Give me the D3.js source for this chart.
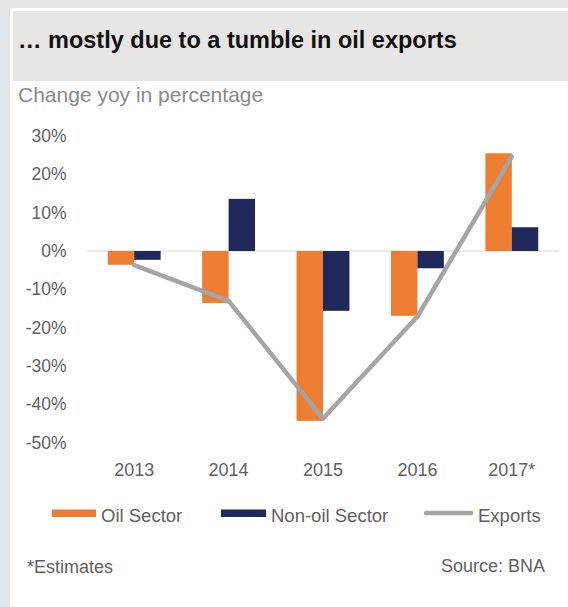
<!DOCTYPE html>
<html>
<head>
<meta charset="utf-8">
<script src="https://cdn.jsdelivr.net/npm/d3@7"></script>
<style>
  html, body { margin: 0; padding: 0; background: #e4e5e7; }
  svg { display: block; }
  text { font-family: "Liberation Sans", Arial, Helvetica, sans-serif; }
</style>
</head>
<body>
<svg id="chart" width="568" height="607"></svg>
<script>
const categories = ["2013", "2014", "2015", "2016", "2017*"];
const oilSector = [-3.6, -13.6, -44.3, -16.9, 25.5];
const nonOilSector = [-2.3, 13.6, -15.6, -4.5, 6.2];
const exportsSeries = [-3.7, -13.0, -43.7, -17.1, 24.6];
const yTicks = [30, 20, 10, 0, -10, -20, -30, -40, -50];
const seriesNames = ["Oil Sector", "Non-oil Sector", "Exports"];
const colors = { oil: "#ed7d31", nonOil: "#1f2858", exports: "#a5a5a5" };

const svg = d3.select("#chart");

// panel backgrounds
svg.append("rect").attr("x", 0).attr("y", 0).attr("width", 568).attr("height", 607).attr("fill", "#e4e5e7");
svg.append("rect").attr("x", 10).attr("y", 8).attr("width", 558).attr("height", 599).attr("fill", "#ffffff");
svg.append("rect").attr("x", 13).attr("y", 11).attr("width", 555).attr("height", 70).attr("fill", "#e7e6e5");

// title + subtitle
svg.append("text").attr("x", 18).attr("y", 48)
  .attr("font-size", 23.5).attr("font-weight", "bold").attr("fill", "#111")
  .text("… mostly due to a tumble in oil exports");
svg.append("text").attr("x", 18).attr("y", 102)
  .attr("font-size", 21).attr("fill", "#8a8a8a")
  .text("Change yoy in percentage");

const x = d3.scaleBand().domain(categories).range([87, 559]).paddingInner(0).paddingOuter(0);
const y = d3.scaleLinear().domain([-50, 30]).range([442.7, 136]);
const bw = x.bandwidth() * 0.28;
const cx = c => x(c) + x.bandwidth() / 2;

// y axis
const yAxis = svg.append("g").attr("transform", "translate(70,0)")
  .call(d3.axisLeft(y).tickValues(yTicks).tickSize(0).tickPadding(3.5).tickFormat(d => d + "%"));
yAxis.select(".domain").remove();
yAxis.selectAll("text").attr("font-size", 17.5).attr("fill", "#5f5f5f")
  .attr("font-family", "'Liberation Sans', Arial, sans-serif");

// zero line
svg.append("line").attr("x1", 87).attr("x2", 559).attr("y1", y(0)).attr("y2", y(0))
  .attr("stroke", "#d9d9d9").attr("stroke-width", 1);

// bars
const data = categories.map((c, i) => ({ c, oil: oilSector[i], non: nonOilSector[i], exp: exportsSeries[i] }));
svg.append("g").selectAll("rect").data(data).join("rect")
  .attr("x", d => cx(d.c) - bw)
  .attr("y", d => Math.min(y(d.oil), y(0)))
  .attr("width", bw)
  .attr("height", d => Math.abs(y(d.oil) - y(0)))
  .attr("fill", colors.oil);
svg.append("g").selectAll("rect").data(data).join("rect")
  .attr("x", d => cx(d.c))
  .attr("y", d => Math.min(y(d.non), y(0)))
  .attr("width", bw)
  .attr("height", d => Math.abs(y(d.non) - y(0)))
  .attr("fill", colors.nonOil);

// exports line
const line = d3.line().x(d => cx(d.c)).y(d => y(d.exp));
svg.append("path").datum(data).attr("d", line)
  .attr("fill", "none").attr("stroke", colors.exports).attr("stroke-width", 4.5)
  .attr("stroke-linejoin", "round").attr("stroke-linecap", "round");

// x axis
const xAxis = svg.append("g").attr("transform", "translate(0,463)")
  .call(d3.axisBottom(x).tickSize(0).tickPadding(0));
xAxis.select(".domain").remove();
xAxis.selectAll("text").attr("font-size", 18).attr("fill", "#5f5f5f")
  .attr("font-family", "'Liberation Sans', Arial, sans-serif");

// legend
const lg = svg.append("g");
lg.append("rect").attr("x", 52).attr("y", 509.5).attr("width", 44).attr("height", 7.5).attr("fill", colors.oil);
lg.append("text").attr("x", 101).attr("y", 521.5).attr("font-size", 18.5).attr("fill", "#5f5f5f").text(seriesNames[0]);
lg.append("rect").attr("x", 221).attr("y", 509.5).attr("width", 45).attr("height", 7.5).attr("fill", colors.nonOil);
lg.append("text").attr("x", 271).attr("y", 521.5).attr("font-size", 18.5).attr("fill", "#5f5f5f").text(seriesNames[1]);
lg.append("line").attr("x1", 426).attr("x2", 471).attr("y1", 513).attr("y2", 513)
  .attr("stroke", colors.exports).attr("stroke-width", 4.5).attr("stroke-linecap", "round");
lg.append("text").attr("x", 478).attr("y", 521.5).attr("font-size", 18.5).attr("fill", "#5f5f5f").text(seriesNames[2]);

// footer
svg.append("text").attr("x", 27).attr("y", 573).attr("font-size", 18).attr("fill", "#5f5f5f").text("*Estimates");
svg.append("text").attr("x", 545).attr("y", 572).attr("text-anchor", "end").attr("font-size", 18).attr("fill", "#5f5f5f").text("Source: BNA");
</script>
</body>
</html>
